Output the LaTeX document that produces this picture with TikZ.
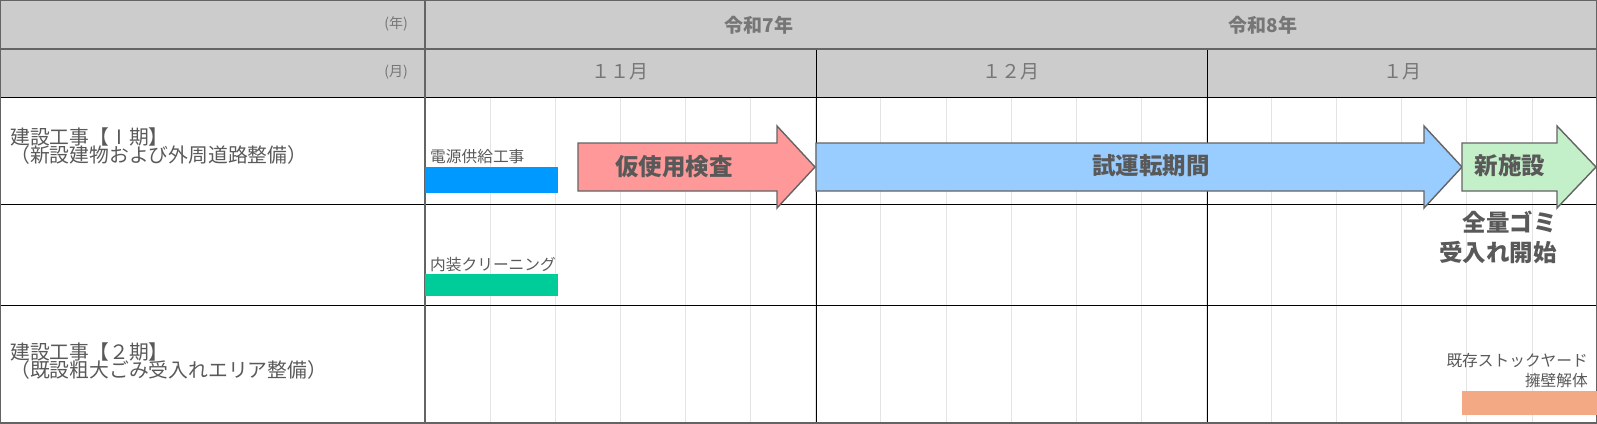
\documentclass[tikz,border=0pt]{standalone}
\usepackage{fontspec}
\setmainfont{Noto Sans CJK JP}
\usepackage{tikz}
\usetikzlibrary{calc,positioning}
\definecolor{hdrfill}{HTML}{CCCCCC}
\definecolor{framegray}{HTML}{646464}
\definecolor{weekgray}{HTML}{E4E4E4}
\definecolor{yeargray}{HTML}{767676}
\definecolor{txtgray}{HTML}{595959}
\definecolor{powerblue}{HTML}{0099FF}
\definecolor{cleangreen}{HTML}{00CC99}
\definecolor{inspectpink}{HTML}{FF9999}
\definecolor{trialblue}{HTML}{99CCFF}
\definecolor{newgreen}{HTML}{C3F0C8}
\definecolor{wallsalmon}{HTML}{F3AA84}
\newcommand{\tightlines}{\lineskiplimit=-30pt\relax}

\begin{document}
\begin{tikzpicture}[x=1pt,y=-1pt,
		gridframe/.style={draw=framegray,line width=1.6pt},
		monthrule/.style={draw=black,line width=0.9pt},
		weekline/.style={draw=weekgray,line width=0.8pt},
		yeartxt/.style={font=\fontsize{19}{19}\selectfont\bfseries,text=yeargray,inner sep=0},
		monthtxt/.style={font=\fontsize{19}{19}\selectfont,text=yeargray,inner sep=0},
		unittxt/.style={font=\fontsize{14}{14}\selectfont,text=yeargray,anchor=east,inner sep=0},
		rowtxt/.style={font={\fontsize{19.8}{18.3}\selectfont\tightlines},text=txtgray,anchor=west,align=left,inner sep=0},
		tasktxt/.style={font={\fontsize{15.7}{20}\selectfont\tightlines},text=txtgray,inner sep=0},
		phase/.style={draw=framegray,line width=1.4pt,line join=miter},
		phasetxt/.style={font=\fontsize{23.5}{30}\selectfont\bfseries,text=txtgray,inner sep=0}]
		\useasboundingbox (0,0) rectangle (1597,423);
		\fill[hdrfill] (0,0) rectangle (1597,97);
		\foreach \k in {1,...,17} \draw[weekline] ({425+\k*65.111},97) -- ({425+\k*65.111},423);
		\draw[monthrule] (0,97) -- (1597,97); \draw[monthrule] (0,204) -- (1597,204); \draw[monthrule] (0,305) -- (1597,305);
		\draw[monthrule] (816,49) -- (816,423); \draw[monthrule] (1207,49) -- (1207,423);
		\draw[gridframe] (0,49) -- (1597,49); \draw[gridframe] (425,0) -- (425,423); \draw[gridframe] (0,0) rectangle (1597,423);

		% header
		\node[unittxt] (yearunit) at (408,24) {(年)}; \node[unittxt] (monthunit) at (408,72) {(月)};
		\node[yeartxt] (r7) at (759,25) {令和7年}; \node[yeartxt] (r8) at (1263,25) {令和8年};
		\node[monthtxt] (nov) at (620,72) {１１月}; \node[monthtxt] (dec) at (1011,72) {１２月}; \node[monthtxt] (jan) at (1402,72) {１月};

		% rows
		\node[rowtxt] (phase1) at (10,146) {建設工事【\hbox to 1em{\hfil I\hfil}期】\\（新設建物および外周道路整備）};
		\node[rowtxt] (phase2) at (10,361) {建設工事【２期】\\（既設粗大ごみ受入れエリア整備）};

		% tasks
		\fill[powerblue] (425,167) rectangle (558,193); \node[tasktxt,anchor=west] (power) at (430,157) {電源供給工事};
		\fill[cleangreen] (425,274) rectangle (558,296); \node[tasktxt,anchor=west] (clean) at (430,265) {内装クリーニング};
		\fill[wallsalmon] (1462,391) rectangle (1597,415); \node[tasktxt,anchor=east,align=right] (wall) at (1588,370.5) {既存ストックヤード\\擁壁解体};

		\draw[phase,fill=inspectpink] (578,143) -- (777,143) -- (777,126) -- (815,167) -- (777,208) -- (777,191) -- (578,191) -- cycle;
		\draw[phase,fill=trialblue] (816,143) -- (1424,143) -- (1424,126) -- (1462,167) -- (1424,208) -- (1424,191) -- (816,191) -- cycle;
		\draw[phase,fill=newgreen] (1462,143) -- (1557,143) -- (1557,126) -- (1596,167) -- (1557,208) -- (1557,191) -- (1462,191) -- cycle;
		\node[phasetxt] (inspect) at (674,167) {仮使用検査}; \node[phasetxt] (trial) at (1151,166) {試運転期間}; \node[phasetxt] (newfac) at (1510,166) {新施設};
		\node[phasetxt,anchor=east,align=right] (intake) at (1557,237) {全量ゴミ\\受入れ開始};
	\end{tikzpicture}
\end{document}
